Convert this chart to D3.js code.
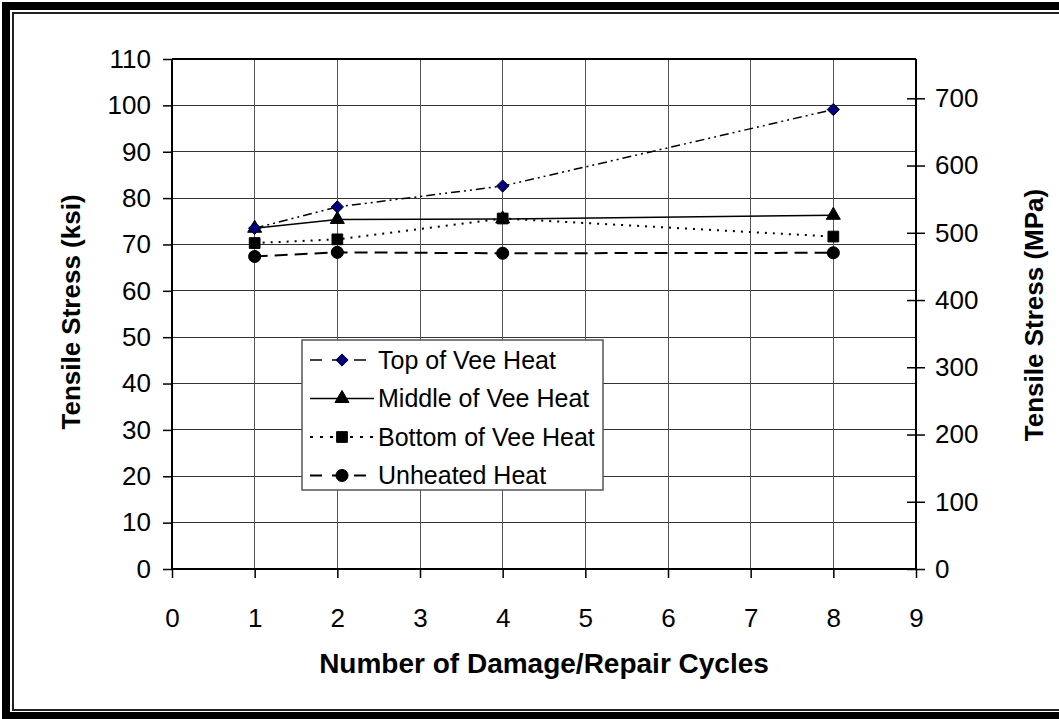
<!DOCTYPE html>
<html>
<head>
<meta charset="utf-8">
<script src="https://cdn.jsdelivr.net/npm/d3@7"></script>
<style>
  body { margin: 0; background: #fff; }
  svg { display: block; font-family: "Liberation Sans", Arial, sans-serif; }
</style>
</head>
<body>
<svg width="1059" height="719"></svg>
<script>
// data
const cycles = [1, 2, 4, 8]
const topVee = [73.5, 78.1, 82.6, 99.1]
const middleVee = [73.5, 75.4, 75.5, 76.3]
const bottomVee = [70.3, 71.1, 75.6, 71.7]
const unheated = [67.4, 68.3, 68.1, 68.2]
const seriesNames = ['Top of Vee Heat', 'Middle of Vee Heat', 'Bottom of Vee Heat', 'Unheated Heat']
const xTicks = [0, 1, 2, 3, 4, 5, 6, 7, 8, 9]
const ksiTicks = [0, 10, 20, 30, 40, 50, 60, 70, 80, 90, 100, 110]
const mpaTicks = [0, 100, 200, 300, 400, 500, 600, 700]
const KSI_TO_MPA = 6.895

// square turned 45 degrees, like the spreadsheet diamond
const diamond = {
  draw(ctx, size) {
    const r = Math.sqrt(size / 2)
    ctx.moveTo(0, -r); ctx.lineTo(r, 0); ctx.lineTo(0, r); ctx.lineTo(-r, 0); ctx.closePath()
  }
}

const series = [
  { name: seriesNames[0], values: topVee, symbol: diamond, size: 75, fill: '#000080', dash: '9,4,2,4,2,4', width: 1.5 },
  { name: seriesNames[1], values: middleVee, symbol: d3.symbolTriangle, size: 85, fill: '#000', dash: null, width: 1.5 },
  { name: seriesNames[2], values: bottomVee, symbol: d3.symbolSquare, size: 115, fill: '#000', dash: '2,6', width: 2 },
  { name: seriesNames[3], values: unheated, symbol: d3.symbolCircle, size: 115, fill: '#000', dash: '13,7', width: 2 },
]

const svg = d3.select('svg')

// frame
svg.append('rect').attr('x', 6).attr('y', 6).attr('width', 1100).attr('height', 710)
  .attr('fill', 'none').attr('stroke', '#000').attr('stroke-width', 8)
svg.append('rect').attr('x', 13).attr('y', 13).attr('width', 1100).attr('height', 697)
  .attr('fill', 'none').attr('stroke', '#222').attr('stroke-width', 2)

const x = d3.scaleLinear().domain([0, 9]).range([172, 916])
const y = d3.scaleLinear().domain([0, 110]).range([569, 59])
const yR = d3.scaleLinear().domain([0, 110 * KSI_TO_MPA]).range([569, 59])

// grid
svg.append('g').selectAll('line').data(ksiTicks.slice(1, -1)).join('line')
  .attr('x1', x(0)).attr('x2', x(9)).attr('y1', d => y(d)).attr('y2', d => y(d))
  .attr('stroke', '#333').attr('stroke-width', 1).attr('shape-rendering', 'crispEdges')
svg.append('g').selectAll('line').data(xTicks.slice(1, -1)).join('line')
  .attr('x1', d => x(d)).attr('x2', d => x(d)).attr('y1', y(0)).attr('y2', y(110))
  .attr('stroke', '#555').attr('stroke-width', 1).attr('shape-rendering', 'crispEdges')
svg.append('line').attr('x1', x(0)).attr('x2', x(9)).attr('y1', y(110)).attr('y2', y(110))
  .attr('stroke', '#000').attr('stroke-width', 2)

// axes
const left = svg.append('g').attr('transform', `translate(${x(0)},0)`)
  .call(d3.axisLeft(y).tickValues(ksiTicks).tickSize(9).tickPadding(12))
const bottom = svg.append('g').attr('transform', `translate(0,${y(0)})`)
  .call(d3.axisBottom(x).tickValues(xTicks).tickSize(9).tickPadding(31))
const right = svg.append('g').attr('transform', `translate(${x(9)},0)`)
  .call(d3.axisRight(yR).tickValues(mpaTicks).tickSize(9).tickPadding(10))
right.selectAll('.tick line').attr('x1', -9)

;[left, bottom, right].forEach(g => {
  g.select('.domain').attr('stroke', '#000').attr('stroke-width', 2)
  g.selectAll('.tick line').attr('stroke', '#000').attr('stroke-width', 1.5)
  g.selectAll('.tick text').attr('font-size', 26).attr('fill', '#000')
    .attr('font-family', '"Liberation Sans", Arial, sans-serif')
})
left.select('.domain').attr('d', `M0,${y(110)}V${y(0)}`)
right.select('.domain').attr('d', `M0,${y(110)}V${y(0)}`)
bottom.select('.domain').attr('d', `M${x(0)},0H${x(9)}`)

// titles
svg.append('text').attr('x', 544).attr('y', 673).attr('text-anchor', 'middle')
  .attr('font-size', 28).attr('font-weight', 'bold').text('Number of Damage/Repair Cycles')
svg.append('text').attr('transform', 'translate(80,312) rotate(-90)').attr('text-anchor', 'middle')
  .attr('font-size', 26).attr('font-weight', 'bold').text('Tensile Stress (ksi)')
svg.append('text').attr('transform', 'translate(1043,315) rotate(-90)').attr('text-anchor', 'middle')
  .attr('font-size', 26).attr('font-weight', 'bold').text('Tensile Stress (MPa)')

// series
const line = d3.line().x((d, i) => x(cycles[i])).y(d => y(d))
const plot = svg.append('g')
series.slice().reverse().forEach(s => {
  plot.append('path').attr('d', line(s.values)).attr('fill', 'none')
    .attr('stroke', '#000').attr('stroke-width', s.width).attr('stroke-dasharray', s.dash)
  plot.append('g').selectAll('path').data(s.values).join('path')
    .attr('transform', (d, i) => `translate(${x(cycles[i])},${y(d)})`)
    .attr('d', d3.symbol().type(s.symbol).size(s.size))
    .attr('fill', s.fill).attr('stroke', '#000').attr('stroke-width', 1)
})

// legend
const lg = svg.append('g').attr('transform', 'translate(302,340)')
lg.append('rect').attr('width', 301).attr('height', 150)
  .attr('fill', '#fff').attr('stroke', '#555').attr('stroke-width', 1.5)
const rows = lg.selectAll('g').data(series).join('g')
  .attr('transform', (d, i) => `translate(0,${20 + i * 38.5})`)
rows.append('line').attr('x1', 8).attr('x2', 72).attr('y1', 0).attr('y2', 0)
  .attr('stroke', '#000').attr('stroke-width', d => d.width)
  .attr('stroke-dasharray', (d, i) => i === 1 ? null : (i === 2 ? '3,7' : '12,10'))
rows.append('path').attr('transform', 'translate(40,0)')
  .attr('d', d => d3.symbol().type(d.symbol).size(d.size)())
  .attr('fill', d => d.fill).attr('stroke', '#000').attr('stroke-width', 1)
rows.append('text').attr('x', 76).attr('y', 0).attr('dy', '0.35em')
  .attr('font-size', 25).text(d => d.name)
</script>
</body>
</html>
